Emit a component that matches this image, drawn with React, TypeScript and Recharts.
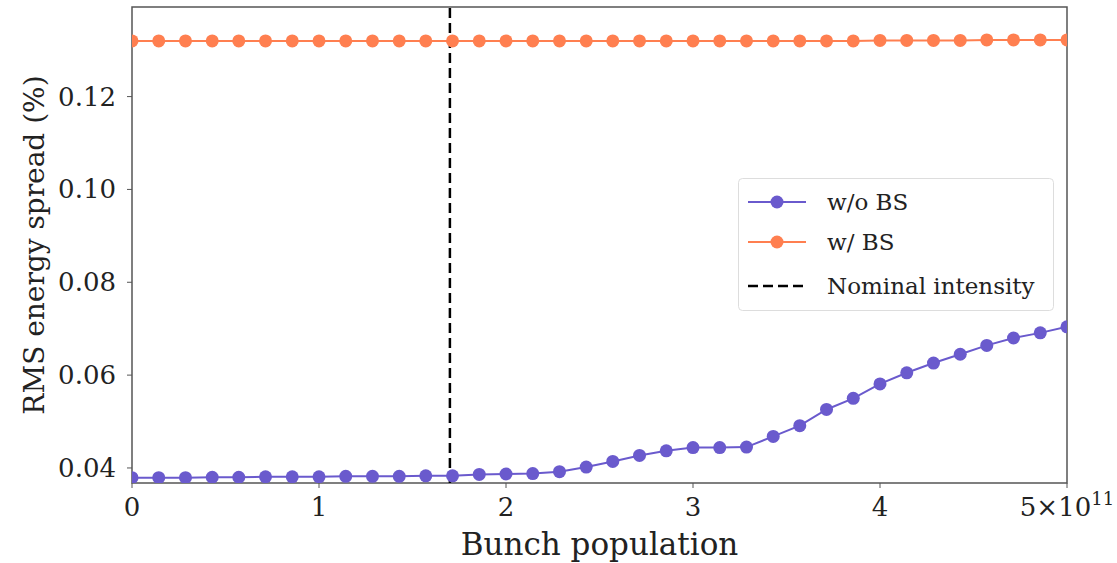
import React from "react";
import {
  LineChart,
  Line,
  XAxis,
  YAxis,
  ReferenceLine,
  ReferenceArea,
} from "recharts";

// bunch population in units of 1e11
const population = [
  0, 0.143, 0.286, 0.429, 0.571, 0.714, 0.857, 1.0, 1.143, 1.286, 1.429, 1.571,
  1.714, 1.857, 2.0, 2.143, 2.286, 2.429, 2.571, 2.714, 2.857, 3.0, 3.143,
  3.286, 3.429, 3.571, 3.714, 3.857, 4.0, 4.143, 4.286, 4.429, 4.571, 4.714,
  4.857, 5.0,
];

const spreadNoBS = [
  0.0379, 0.0379, 0.0379, 0.038, 0.038, 0.0381, 0.0381, 0.0381, 0.0382, 0.0382,
  0.0382, 0.0383, 0.0383, 0.0386, 0.0387, 0.0388, 0.0392, 0.0402, 0.0414,
  0.0427, 0.0437, 0.0444, 0.0444, 0.0445, 0.0468, 0.0491, 0.0526, 0.055,
  0.0581, 0.0605, 0.0626, 0.0645, 0.0664, 0.068, 0.0691, 0.0704,
];

const spreadBS = [
  0.132, 0.132, 0.132, 0.132, 0.132, 0.132, 0.132, 0.132, 0.132, 0.132, 0.132,
  0.132, 0.132, 0.132, 0.132, 0.132, 0.132, 0.132, 0.132, 0.132, 0.132, 0.132,
  0.132, 0.132, 0.132, 0.132, 0.132, 0.132, 0.1321, 0.1321, 0.1321, 0.1321,
  0.1322, 0.1322, 0.1322, 0.1322,
];

const xTicks = [0, 1, 2, 3, 4, 5];
const yTicks = [0.04, 0.06, 0.08, 0.1, 0.12];
const nominal = 1.7;

const X_DOMAIN = [0, 5];
const Y_DOMAIN = [0.03676, 0.1393];

const PURPLE = "#6a5acd";
const ORANGE = "#ff7f50";
const FONT = "'DejaVu Serif', serif";

const data = population.map((n, i) => ({
  n,
  noBS: spreadNoBS[i],
  bs: spreadBS[i],
}));

function XTick(props: any) {
  const { x, y, payload } = props;
  const v = payload.value;
  if (v === 5) {
    return (
      <text x={x} y={y + 26} textAnchor="middle" fontFamily={FONT} fontSize={26} fill="#222">
        <tspan>5×10</tspan>
        <tspan dy={-11} fontSize={18}>11</tspan>
      </text>
    );
  }
  return (
    <text x={x} y={y + 26} textAnchor="middle" fontFamily={FONT} fontSize={26} fill="#222">
      {v}
    </text>
  );
}

function YTick(props: any) {
  const { x, y, payload } = props;
  return (
    <text x={x - 9} y={y + 9} textAnchor="end" fontFamily={FONT} fontSize={26} fill="#222">
      {payload.value.toFixed(2)}
    </text>
  );
}

function LegendBox() {
  const rows = [
    { label: "w/o BS", color: PURPLE, dot: true, cy: 24 },
    { label: "w/ BS", color: ORANGE, dot: true, cy: 64 },
    { label: "Nominal intensity", color: "#000", dot: false, cy: 108 },
  ];
  return (
    <svg width={316} height={133} style={{ display: "block" }}>
      <rect x={0.5} y={0.5} width={315} height={132} rx={4} fill="#fff" fillOpacity={0.85} stroke="#ddd" />
      {rows.map((r) => (
        <g key={r.label}>
          {r.dot ? (
            <>
              <line x1={10} x2={68} y1={r.cy} y2={r.cy} stroke={r.color} strokeWidth={2} />
              <circle cx={39} cy={r.cy} r={6.5} fill={r.color} />
            </>
          ) : (
            <line x1={10} x2={68} y1={r.cy} y2={r.cy} stroke="#000" strokeWidth={2.5} strokeDasharray="10 5" />
          )}
          <text x={89} y={r.cy + 8} fontFamily={FONT} fontSize={23} fill="#222">
            {r.label}
          </text>
        </g>
      ))}
    </svg>
  );
}

export default function App() {
  return (
    <div style={{ position: "absolute", left: 0, top: 0, width: 1117, height: 563, background: "#fff" }}>
      <LineChart
        width={1117}
        height={563}
        data={data}
        margin={{ top: 7, right: 50, left: 0, bottom: 0 }}
      >
        <XAxis
          dataKey="n"
          type="number"
          domain={X_DOMAIN}
          ticks={xTicks}
          allowDataOverflow
          axisLine={false}
          tickLine={{ stroke: "#555" }}
          tickSize={5}
          height={80}
          tick={<XTick />}
          label={{
            value: "Bunch population",
            position: "insideBottom",
            offset: 8,
            style: { fontFamily: FONT, fontSize: 31, fill: "#222" },
          }}
        />
        <YAxis
          type="number"
          domain={Y_DOMAIN}
          ticks={yTicks}
          allowDataOverflow
          axisLine={false}
          tickLine={{ stroke: "#555" }}
          tickSize={5}
          width={132}
          tick={<YTick />}
          label={{
            value: "RMS energy spread (%)",
            angle: -90,
            position: "insideLeft",
            offset: 34,
            style: { fontFamily: FONT, fontSize: 28, fill: "#222", textAnchor: "middle" },
          }}
        />
        <ReferenceArea
          x1={X_DOMAIN[0]}
          x2={X_DOMAIN[1]}
          y1={Y_DOMAIN[0]}
          y2={Y_DOMAIN[1]}
          fill="none"
          stroke="#555"
          strokeWidth={1.5}
        />
        <Line
          dataKey="noBS"
          stroke={PURPLE}
          strokeWidth={2}
          dot={{ r: 6.5, fill: PURPLE, stroke: "none" }}
          isAnimationActive={false}
        />
        <Line
          dataKey="bs"
          stroke={ORANGE}
          strokeWidth={2}
          dot={{ r: 6.5, fill: ORANGE, stroke: "none" }}
          isAnimationActive={false}
        />
        <ReferenceLine x={nominal} stroke="#000" strokeWidth={2.5} strokeDasharray="10 5" />
      </LineChart>
      <div style={{ position: "absolute", left: 738, top: 178 }}>
        <LegendBox />
      </div>
    </div>
  );
}
